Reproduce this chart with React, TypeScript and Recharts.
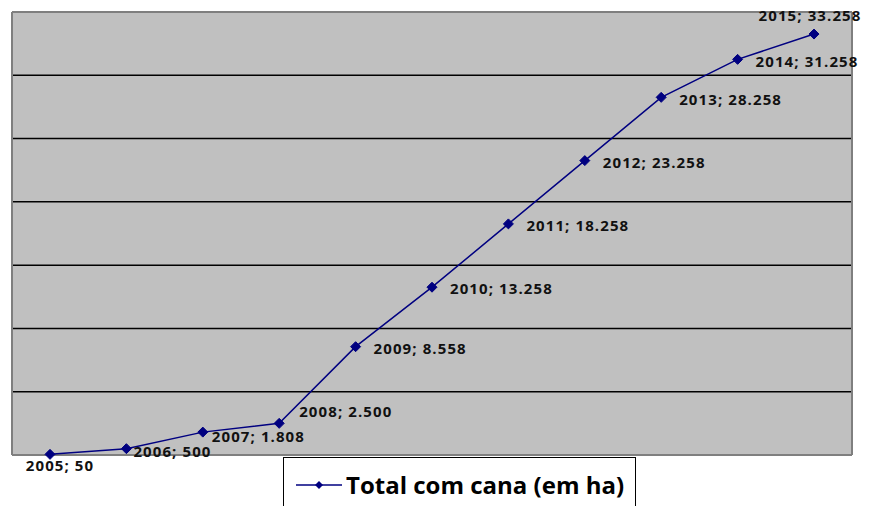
import React from "react";
import { LineChart, Line, XAxis, YAxis, CartesianGrid, LabelList } from "recharts";

const years = ["2005", "2006", "2007", "2008", "2009", "2010", "2011", "2012", "2013", "2014", "2015"];
const totalComCana = [50, 500, 1808, 2500, 8558, 13258, 18258, 23258, 28258, 31258, 33258];
const yTicks = [0, 5000, 10000, 15000, 20000, 25000, 30000, 35000];
const seriesName = "Total com cana (em ha)";

const data = years.map((y, i) => ({ year: y, total: totalComCana[i] }));

const fmt = (v: number) => {
  const s = String(Math.round(v));
  return s.replace(/\B(?=(\d{3})+(?!\d))/g, ".");
};

const FONT = "'Open Sans', 'DejaVu Sans', sans-serif";
const NAVY = "#000080";

// label placement: [anchor, dx, dy(center)]
const labelPlace = (i: number): [string, number, number] => {
  if (i === 0) return ["middle", 10, 11];
  if (i === 1) return ["start", 7, 3];
  if (i === 2) return ["start", 9, 5];
  if (i === 3) return ["start", 20, -12];
  if (i === 10) return ["middle", -4, -18];
  return ["start", 18, 2];
};

const DataLabel = (props: any) => {
  const { x, y, index, value } = props;
  const [anchor, dx, dy] = labelPlace(index);
  return (
    <text
      x={x + dx}
      y={y + dy}
      dy="0.35em"
      textAnchor={anchor as any}
      fontFamily={FONT}
      fontWeight={700}
      fontSize={15}
      fill="#111"
      letterSpacing={1.1}
    >
      {`${years[index]}; ${fmt(value)}`}
    </text>
  );
};

const Diamond = (props: any) => {
  const { cx, cy, key } = props;
  if (cx == null || cy == null) return null;
  const r = 5;
  return (
    <path
      key={key}
      d={`M${cx},${cy - r}L${cx + r},${cy}L${cx},${cy + r}L${cx - r},${cy}Z`}
      fill={NAVY}
      stroke={NAVY}
    />
  );
};

const LegendBox = () => (
  <div
    style={{
      position: "absolute",
      left: 283,
      top: 457,
      width: 353,
      height: 60,
      border: "1.5px solid #000",
      background: "#fff",
      boxSizing: "border-box",
      display: "flex",
      alignItems: "flex-start",
      paddingTop: 13,
      paddingLeft: 12,
    }}
  >
    <svg width={46} height={24} style={{ marginTop: 2 }}>
      <line x1={0} y1={12} x2={46} y2={12} stroke={NAVY} strokeWidth={1.5} />
      <path d="M23,8L27,12L23,16L19,12Z" fill={NAVY} />
    </svg>
    <span
      style={{
        fontFamily: FONT,
        fontWeight: 700,
        fontSize: 24,
        color: "#000",
        marginLeft: 4,
        lineHeight: "28px",
        whiteSpace: "nowrap",
      }}
    >
      {seriesName}
    </span>
  </div>
);

export default function App() {
  return (
    <div style={{ position: "absolute", left: 0, top: 0, width: 870, height: 506, background: "#fff", overflow: "hidden" }}>
      <LineChart width={870} height={506} data={data} margin={{ top: 12, right: 18, bottom: 51, left: 12 }} style={{ overflow: "visible" }}>
        <CartesianGrid
          vertical={false}
          fill="#C0C0C0"
          fillOpacity={1}
          stroke="#000"
          strokeWidth={1.5}
        />
        <CartesianGrid
          fill="none"
          stroke="#7f7f7f"
          strokeWidth={2}
          horizontalCoordinatesGenerator={({ offset }: any) => [offset.top, offset.top + offset.height]}
          verticalCoordinatesGenerator={({ offset }: any) => [offset.left, offset.left + offset.width]}
        />
        <XAxis dataKey="year" hide padding={{ left: 38, right: 38 }} />
        <YAxis hide domain={[0, 35000]} ticks={yTicks} />
        <Line
          dataKey="total"
          name={seriesName}
          stroke={NAVY}
          strokeWidth={1.5}
          dot={<Diamond />}
          activeDot={false}
          isAnimationActive={false}
        >
          <LabelList dataKey="total" content={<DataLabel />} />
        </Line>
      </LineChart>
      <LegendBox />
    </div>
  );
}
